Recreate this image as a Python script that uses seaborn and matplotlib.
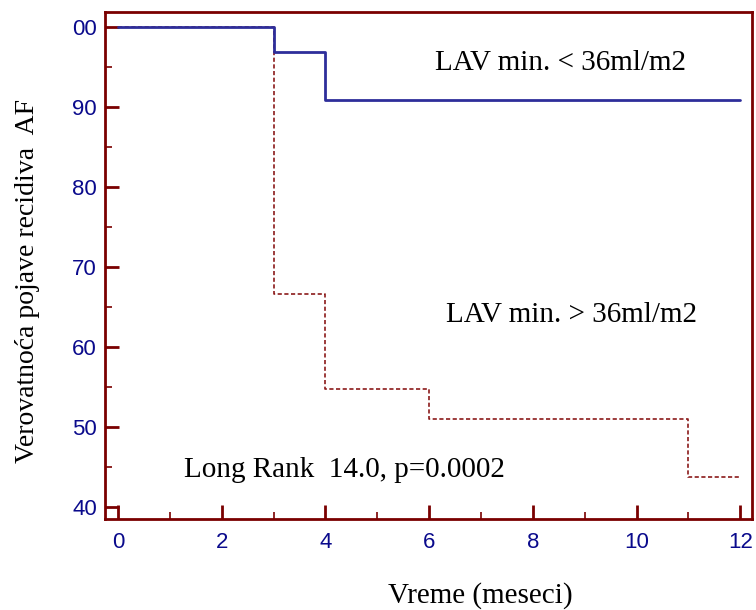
import matplotlib
matplotlib.use("Agg")
import matplotlib.pyplot as plt
import seaborn as sns
import pandas as pd
from matplotlib.ticker import MultipleLocator, FuncFormatter

# Kaplan-Meier step data (months, % without AF recurrence)
low_time = [0, 3, 4, 12]
low_surv = [100.0, 96.9, 90.9, 90.9]
high_time = [0, 3, 4, 6, 11, 12]
high_surv = [100.0, 66.7, 54.8, 51.0, 43.8, 43.8]
x_ticks = [0, 2, 4, 6, 8, 10, 12]
y_ticks = [40, 50, 60, 70, 80, 90, 100]

df_low = pd.DataFrame({'Vreme': low_time, 'Verovatnoca': low_surv})
df_high = pd.DataFrame({'Vreme': high_time, 'Verovatnoca': high_surv})

sns.set_style('white')
plt.rcParams['font.family'] = ['Liberation Serif', 'DejaVu Serif']
plt.rcParams['text.color'] = 'black'
plt.rcParams['axes.labelcolor'] = 'black'

spine_col = '#7a0000'
tick_col = '#0a0a8c'

fig = plt.figure(figsize=(7.56, 6.10), dpi=100)
ax = fig.add_axes([0.139, 0.149, 0.856, 0.831])

sns.lineplot(data=df_high, x='Vreme', y='Verovatnoca', ax=ax, drawstyle='steps-post',
             color='#8b1a1a', linewidth=1.2, linestyle=(0, (2.5, 1.5)))
sns.lineplot(data=df_low, x='Vreme', y='Verovatnoca', ax=ax, drawstyle='steps-post',
             color='#2e2e9a', linewidth=2.0)

ax.set_xlim(-0.25, 12.23)
ax.set_ylim(38.5, 101.9)
ax.set_xticks(x_ticks)
ax.set_yticks(y_ticks)
ax.xaxis.set_minor_locator(MultipleLocator(1))
ax.yaxis.set_minor_locator(MultipleLocator(5))
ax.yaxis.set_major_formatter(FuncFormatter(lambda v, p: f'{int(v) % 100:02d}'))

for s in ax.spines.values():
    s.set_color(spine_col)
    s.set_linewidth(2)
ax.tick_params(which='major', direction='in', length=10, width=2, color=spine_col,
               labelcolor=tick_col, labelsize=16)
ax.tick_params(axis='y', which='major', pad=6)
ax.tick_params(axis='x', which='major', pad=9)
ax.tick_params(which='minor', direction='in', length=5, width=1.2, color=spine_col)
ax.tick_params(axis='x', which='both', bottom=True)
ax.tick_params(axis='y', which='both', left=True)
for lab in ax.get_xticklabels() + ax.get_yticklabels():
    lab.set_family(['Liberation Sans', 'DejaVu Sans'])

ax.set_xlabel('Vreme (meseci)', fontsize=21)
ax.set_ylabel('Verovatnoća pojave recidiva  AF', fontsize=20)
ax.xaxis.set_label_coords(0.58, -0.124)
ax.yaxis.set_label_coords(-0.1, 0.47)

ax.text(8.53, 95.5, 'LAV min. < 36ml/m2', fontsize=21, ha='center', va='center')
ax.text(8.75, 64.0, 'LAV min. > 36ml/m2', fontsize=21, ha='center', va='center')
ax.text(4.36, 44.6, 'Long Rank  14.0, p=0.0002', fontsize=21, ha='center', va='center')

fig.savefig('out.png', dpi=100)
